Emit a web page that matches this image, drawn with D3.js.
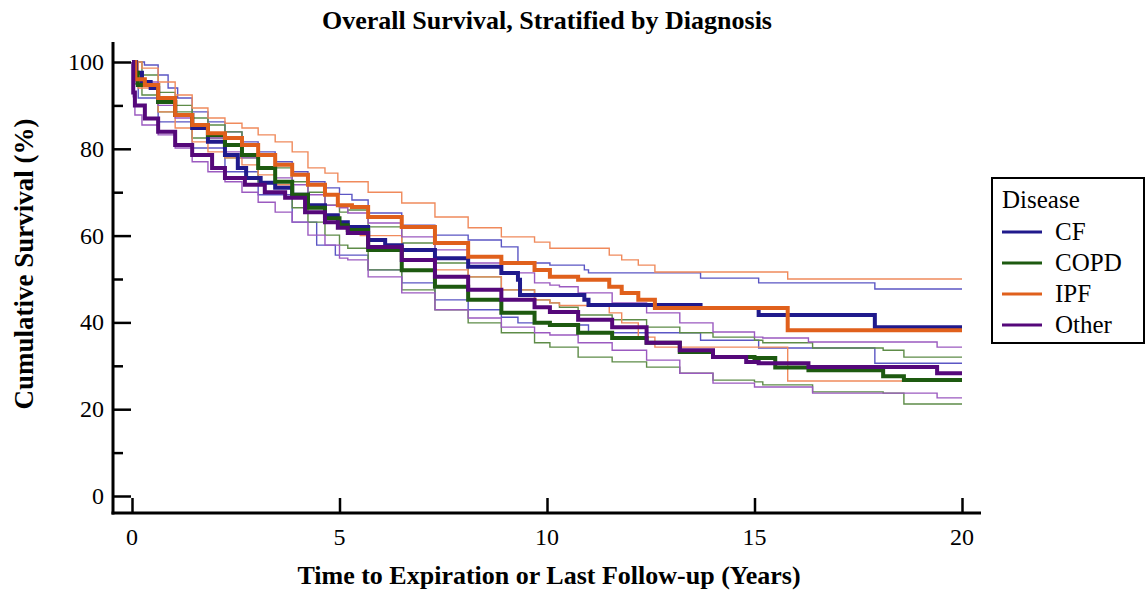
<!DOCTYPE html>
<html><head><meta charset="utf-8">
<script src="https://cdn.jsdelivr.net/npm/d3@7"></script>
<style>
body{margin:0;background:#fff;}
svg{display:block;font-family:"Liberation Serif","Times New Roman",serif;}
</style></head>
<body><svg id="c" width="1147" height="591"></svg>
<script>
// ---- data: [time (years), cumulative survival (%)] ----
const cfEst = [[0,100],[0.1,97.5],[0.24,95.4],[0.45,94],[0.63,90.8],[1.04,87.8],[1.45,84.8],[1.83,81.6],[2.24,78.6],[2.55,75.6],[2.75,73.3],[3.1,72.2],[3.45,71],[3.86,69.4],[4.24,67],[4.65,64.7],[4.96,63.1],[5.2,62],[5.69,59],[6.1,57.8],[6.5,56.7],[7.3,54.8],[8.1,52.8],[8.9,51.4],[9.3,49.8],[9.35,46.3],[10.9,45.2],[11,44],[13.7,43.3],[15.1,41.7],[17.9,38.9],[20,38.9]];
const cfLow = [[0,100],[0.05,95],[0.15,91.7],[0.63,86.2],[1.45,80.2],[2.24,74.7],[3.04,69.4],[3.86,63.1],[4.45,57.8],[4.9,55.5],[5.69,52.1],[6.5,49.1],[7.3,45.2],[8.1,42.9],[8.9,41.2],[9.3,39.9],[10.07,39.4],[11,37.6],[13.7,35.9],[15.1,34.1],[17.9,30.6],[20,30.6]];
const cfHigh = [[0,100],[0.3,99.3],[0.63,97],[0.87,94],[1.1,91.7],[1.45,88.5],[1.83,86.2],[2.24,83.9],[2.65,81.6],[3.04,79.3],[3.45,77],[3.86,74.7],[4.24,72.4],[4.65,71],[5,69.5],[5.3,68.2],[5.69,65.2],[6.5,62.4],[7.3,60.1],[8.1,59],[8.9,57.4],[9.3,53.7],[10.07,53.2],[10.9,52.1],[11,51.4],[13.7,50.2],[15.1,49.1],[17.9,47.7],[20,47.7]];

const copdEst = [[0,100],[0.05,97.5],[0.14,94.7],[0.63,90.8],[1.04,87.8],[1.45,85.5],[1.83,83.2],[2.24,80.9],[2.65,78.6],[3.04,75.6],[3.45,72.4],[3.86,69.4],[4.24,66.4],[4.65,64],[5,62.4],[5.2,61.3],[5.69,56.7],[6.5,52],[7.3,48.2],[8.1,45.2],[8.9,42.2],[9.7,39.9],[10.07,39.4],[10.75,37.6],[11.57,36.4],[12.4,35.3],[13.2,33.2],[14,32],[15,31.8],[15.5,29.6],[16.3,29],[18.1,27.6],[18.6,26.7],[20,26.7]];
const copdLow = [[0,100],[0.05,95],[0.24,92.4],[0.63,88.5],[1.45,82.5],[2.24,77.9],[3.04,72.4],[3.86,66.4],[4.24,63.1],[4.65,60.1],[5,57.8],[5.2,57.1],[5.69,52.1],[6.5,47.5],[7.3,42.9],[8.1,39.9],[8.9,37.6],[9.7,35.3],[10.07,34.3],[10.75,32],[11.57,30.9],[12.4,29.7],[13.2,28.3],[14,26.7],[15,26.3],[15.2,25.6],[16.4,24],[18.1,23.7],[18.6,21.2],[20,21.2]];
const copdHigh = [[0,100],[0.24,97],[0.63,93],[1.04,90],[1.45,87.1],[1.83,85.5],[2.24,83.9],[2.65,80.9],[3.04,78.6],[3.45,75.6],[3.86,72.4],[4.24,70],[4.65,67],[5,65.4],[5.2,65.9],[5.69,62],[6.5,58.3],[7.3,53.7],[8.1,50.5],[8.9,47.5],[9.7,45.2],[10.07,44.5],[10.3,43.5],[10.75,41.7],[11.57,40.6],[12.4,38.9],[13.2,37.6],[14,36.6],[15,35.9],[15.2,35.3],[16.4,34.1],[18.1,33.6],[18.6,32],[20,32]];

const ipfEst = [[0,100],[0.08,96],[0.31,94.7],[0.63,91.7],[1.04,87.8],[1.45,85.5],[1.83,83.6],[2.24,82.5],[2.65,80.9],[3.04,78.6],[3.45,76.3],[3.86,74],[4.24,71.7],[4.65,69.4],[4.96,67],[5.3,66.6],[5.69,64.3],[6.5,62],[7.3,58.3],[8.1,55.1],[8.9,53.7],[9.7,52.1],[10.07,50.5],[10.75,49.8],[11.5,48.2],[11.8,46.8],[12.2,45.2],[12.6,43.3],[15.8,38.2],[20,38.2]];
const ipfLow = [[0,100],[0.15,94],[0.63,88.5],[1.04,84.8],[1.45,81.6],[1.83,79.3],[2.24,77.9],[2.65,76.3],[3.04,74],[3.45,71.7],[3.86,69.4],[4.24,66.4],[4.65,64.7],[5,62],[5.5,60],[6.5,56.7],[7.3,52.1],[8.1,50.5],[8.9,47.5],[9.7,45.2],[10.07,44.5],[10.3,43.9],[11.5,42.2],[11.8,39.9],[12.2,36.6],[12.6,34.3],[15.8,26.5],[20,26.5]];
const ipfHigh = [[0,100],[0.24,98.6],[0.63,95.4],[1.04,92.4],[1.45,89.4],[1.83,87.1],[2.24,85.9],[2.65,84.8],[3.04,83.2],[3.45,81.6],[3.86,79.3],[4.24,75.6],[4.65,74.4],[4.96,72.4],[5.69,70],[6.5,67.5],[7.3,64.3],[8.1,61.8],[8.9,59.7],[9.7,58.5],[10.07,57.1],[11.5,55.5],[11.8,54.4],[12.2,53.2],[12.6,51.6],[15.8,50],[20,50]];

const othEst = [[0,100],[0.03,93],[0.07,90],[0.31,87],[0.63,83.9],[1.04,80.9],[1.45,78.6],[1.93,75.6],[2.24,73.3],[2.72,71.7],[3.2,70],[3.69,68.7],[4.17,65.4],[4.65,63.1],[4.96,61.8],[5.2,60.6],[5.69,57.4],[6.5,54.4],[7.3,50.5],[8.1,47.5],[8.9,45.2],[9.7,43.5],[10.07,42.4],[10.75,40.6],[11.57,38.9],[12.4,35.3],[13.2,33.6],[14,32],[14.8,30.9],[15.1,30.6],[16.3,29.7],[19.4,28.3],[20,28.3]];
const othLow = [[0,100],[0.03,92],[0.07,87.8],[0.24,85.5],[0.63,83.2],[1.04,80.2],[1.45,77],[1.83,74.7],[2.24,72.4],[2.65,70],[3.04,67.7],[3.45,65.4],[3.86,63.1],[4.24,60.1],[4.65,57.8],[5,54.8],[5.2,54.4],[5.69,50.5],[6.5,46.8],[7.3,42.9],[8.1,41],[8.9,38.9],[9.7,37.6],[10.07,37.1],[10.75,35.3],[11.57,33.6],[12.4,31.3],[13.2,28.3],[14,26],[15,25.1],[16.4,23.7],[19.4,22.6],[20,22.6]];
const othHigh = [[0,100],[0.03,97],[0.07,95.4],[0.63,90],[1.04,87.1],[1.45,84.8],[1.83,82.5],[2.24,79.3],[2.65,77.9],[3.04,75.6],[3.45,73.3],[3.86,71.7],[4.24,69.4],[4.65,67],[5,66.4],[5.2,65.2],[5.69,62.9],[6.5,59.7],[7.3,56.7],[8.1,53.7],[8.9,51.4],[9.7,49.1],[10.07,48.6],[10.3,48.2],[10.75,46.8],[11.57,44.5],[12.4,42.2],[13.2,39.9],[14,37.8],[15,36.6],[15.2,36.4],[16.3,35.5],[19.4,34.3],[20,34.3]];

const diseases = ["CF","COPD","IPF","Other"];
const colorsMain = ["#201a8c","#1d5a10","#e0601c","#55087a"];
const colorsThin = ["#5b56c4","#5e8c48","#f08a5c","#9b5ac0"];
const estimates = [cfEst, copdEst, ipfEst, othEst];
const lowers = [cfLow, copdLow, ipfLow, othLow];
const uppers = [cfHigh, copdHigh, ipfHigh, othHigh];
const xTicks = [0,5,10,15,20];
const yTicks = [0,20,40,60,80,100];
const yMinor = [10,30,50,70,90];

const title = "Overall Survival, Stratified by Diagnosis";
const xTitle = "Time to Expiration or Last Follow-up (Years)";
const yTitle = "Cumulative Survival (%)";
const legendTitle = "Disease";

const svg = d3.select("#c");
const x = d3.scaleLinear().domain([0,20]).range([132,962]);
const y = d3.scaleLinear().domain([0,100]).range([496,62]);
const axX = 113, axY = 513;

// title
svg.append("text").attr("x",547).attr("y",29).attr("text-anchor","middle")
  .attr("font-weight","bold").attr("font-size",26).text(title);

// lines
const line = d3.line().x(d=>x(d[0])).y(d=>y(d[1])).curve(d3.curveStepAfter);
const g = svg.append("g");
diseases.forEach((dz,i)=>{
  [lowers[i], uppers[i]].forEach(arr=>{
    g.append("path").datum(arr).attr("d",line).attr("fill","none")
      .attr("stroke",colorsThin[i]).attr("stroke-width",1.4);
  });
});
diseases.forEach((dz,i)=>{
  g.append("path").datum(estimates[i]).attr("d",line).attr("fill","none")
    .attr("stroke",colorsMain[i]).attr("stroke-width",4);
});

// axes
const yAxis = d3.axisRight(y).tickValues(yTicks).tickSize(18).tickFormat("");
const ya = svg.append("g").attr("transform",`translate(${axX},0)`).call(yAxis);
ya.select(".domain").remove();
ya.selectAll(".tick line").attr("stroke","#000").attr("stroke-width",2.5);
const yAxisMinor = d3.axisRight(y).tickValues(yMinor).tickSize(10).tickFormat("");
const ym = svg.append("g").attr("transform",`translate(${axX},0)`).call(yAxisMinor);
ym.select(".domain").remove();
ym.selectAll(".tick line").attr("stroke","#000").attr("stroke-width",2.5);
yTicks.forEach(v=>{
  svg.append("text").attr("x",104).attr("y",y(v)+8).attr("text-anchor","end")
    .attr("font-size",24).text(v);
});

const xAxis = d3.axisTop(x).tickValues(xTicks).tickSize(15).tickFormat("");
const xa = svg.append("g").attr("transform",`translate(0,${axY})`).call(xAxis);
xa.select(".domain").remove();
xa.selectAll(".tick line").attr("stroke","#000").attr("stroke-width",2.5);
xTicks.forEach(v=>{
  svg.append("text").attr("x",x(v)).attr("y",545).attr("text-anchor","middle")
    .attr("font-size",24).text(v);
});

svg.append("line").attr("x1",axX).attr("x2",axX).attr("y1",42).attr("y2",axY+1.5)
  .attr("stroke","#000").attr("stroke-width",3);
svg.append("line").attr("x1",axX-1.5).attr("x2",981).attr("y1",axY).attr("y2",axY)
  .attr("stroke","#000").attr("stroke-width",3);

// axis titles
svg.append("text").attr("x",549).attr("y",584).attr("text-anchor","middle")
  .attr("font-weight","bold").attr("font-size",26).text(xTitle);
svg.append("text").attr("transform","translate(33,264) rotate(-90)").attr("text-anchor","middle")
  .attr("font-weight","bold").attr("font-size",27).text(yTitle);

// legend
const lg = svg.append("g");
lg.append("rect").attr("x",992).attr("y",178).attr("width",152).attr("height",165)
  .attr("fill","#fff").attr("stroke","#000").attr("stroke-width",2);
lg.append("text").attr("x",1002).attr("y",208).attr("font-size",25).text(legendTitle);
diseases.forEach((dz,i)=>{
  const yy = 232 + i*31;
  lg.append("line").attr("x1",1002).attr("x2",1042).attr("y1",yy).attr("y2",yy)
    .attr("stroke",colorsMain[i]).attr("stroke-width",3);
  lg.append("text").attr("x",1055).attr("y",yy+8).attr("font-size",25).text(dz);
});
</script></body></html>
